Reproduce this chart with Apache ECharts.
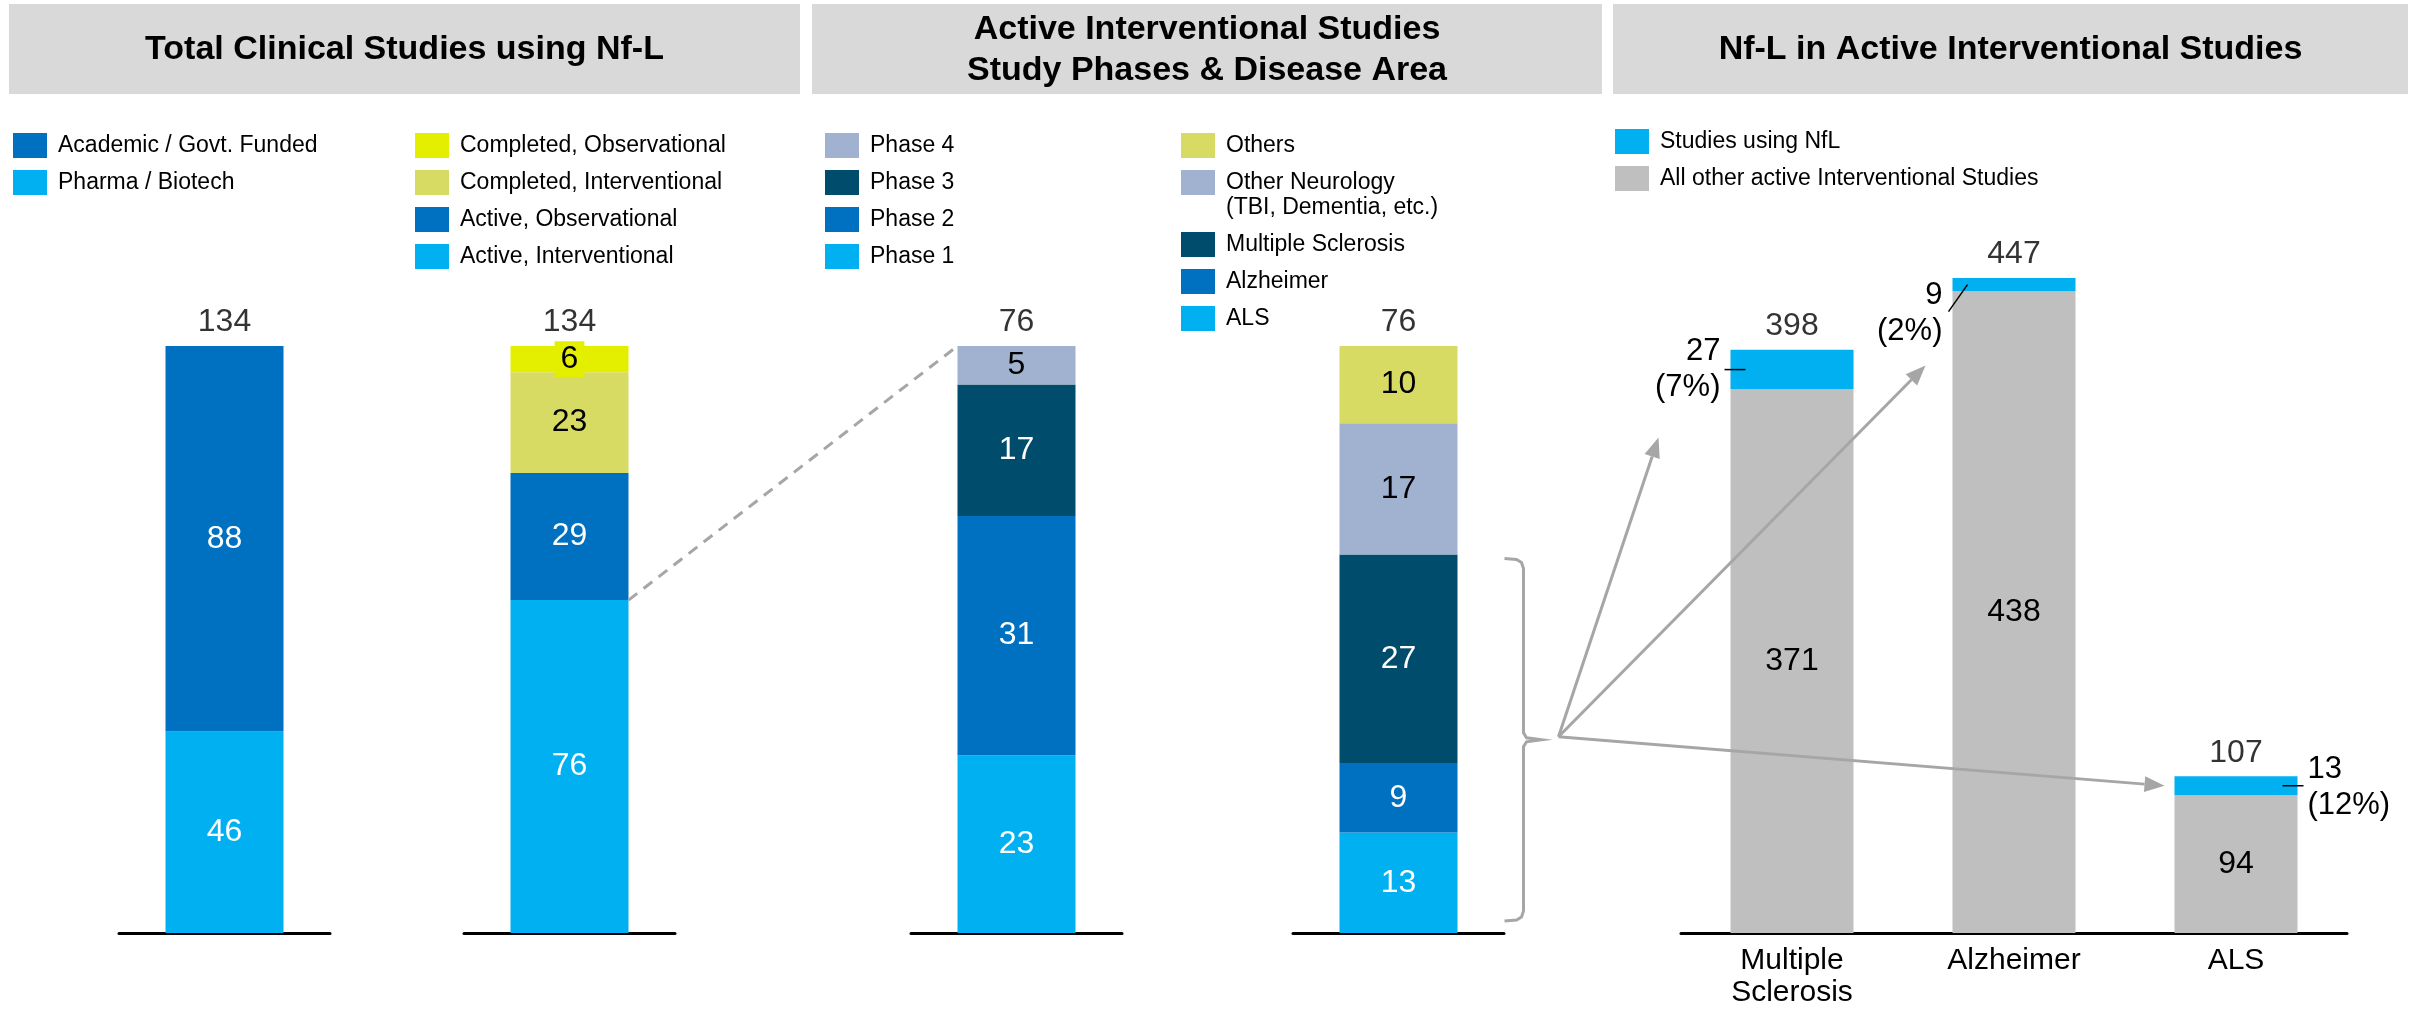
<!DOCTYPE html>
<html lang="en">
<head>
    <meta charset="UTF-8">
    <title>Nf-L Clinical Studies</title>
    <script src="https://cdn.jsdelivr.net/npm/echarts@6/dist/echarts.min.js"></script>
    <style>
        html, body { margin: 0; padding: 0; background: #fff; }
        #main { width: 2417px; height: 1009px; }
    </style>
</head>
<body>
<div id="main"></div>
<script type="text/javascript">
    // data, bottom segment first
    var fundingNames = ['Pharma / Biotech', 'Academic / Govt. Funded'];
    var fundingValues = [46, 88];
    var statusNames = ['Active, Interventional', 'Active, Observational', 'Completed, Interventional', 'Completed, Observational'];
    var statusValues = [76, 29, 23, 6];
    var phaseNames = ['Phase 1', 'Phase 2', 'Phase 3', 'Phase 4'];
    var phaseValues = [23, 31, 17, 5];
    var diseaseNames = ['ALS', 'Alzheimer', 'Multiple Sclerosis', 'Other Neurology', 'Others'];
    var diseaseValues = [13, 9, 27, 17, 10];
    var areaCategories = ['Multiple\nSclerosis', 'Alzheimer', 'ALS'];
    var otherStudies = [371, 438, 94];
    var nflStudies = [27, 9, 13];
    var titles = ['Total Clinical Studies using Nf-L', 'Active Interventional Studies\nStudy Phases & Disease Area', 'Nf-L in Active Interventional Studies'];

    var LIGHT = '#00B0F0', DARK = '#0070C0', NAVY = '#004C6D', LAV = '#A0B2CF',
        OLIVE = '#D8DB63', YELLOW = '#E4EF00', GRAY = '#BFBFBF', LINE = '#A6A6A6';
    var FONT = "'Liberation Sans', Arial, sans-serif";

    function sum(arr) {
        var s = 0;
        for (var i = 0; i < arr.length; i++) s += arr[i];
        return s;
    }

    var stacks = [
        {names: fundingNames, values: fundingValues, colors: [LIGHT, DARK], text: ['#fff', '#fff'], left: 119},
        {names: statusNames, values: statusValues, colors: [LIGHT, DARK, OLIVE, YELLOW], text: ['#fff', '#fff', '#000', '#000'], left: 464},
        {names: phaseNames, values: phaseValues, colors: [LIGHT, DARK, NAVY, LAV], text: ['#fff', '#fff', '#fff', '#000'], left: 911},
        {names: diseaseNames, values: diseaseValues, colors: [LIGHT, DARK, NAVY, LAV, OLIVE], text: ['#fff', '#fff', '#fff', '#000', '#000'], left: 1293}
    ];

    var grids = [], xAxes = [], yAxes = [], series = [];

    function totalLabel(g, points) {
        return {
            type: 'scatter', xAxisIndex: g, yAxisIndex: g, silent: true,
            symbolSize: 1, itemStyle: {color: 'rgba(0,0,0,0)'},
            data: points,
            label: {show: true, position: 'top', distance: 7, color: '#000', fontSize: 32, fontFamily: FONT,
                formatter: function (p) { return p.value[1]; }}
        };
    }

    stacks.forEach(function (st, g) {
        grids.push({left: st.left, top: 346, width: 211, bottom: 76, outerBoundsMode: 'none'});
        xAxes.push({gridIndex: g, type: 'category', data: [''],
            axisLine: {lineStyle: {color: '#000', width: 3}}, axisTick: {show: false}, axisLabel: {show: false}});
        yAxes.push({gridIndex: g, type: 'value', min: 0, max: sum(st.values), show: false});
        st.names.forEach(function (n, i) {
            var lab = {show: true, position: 'inside', color: st.text[i], fontSize: 32, fontFamily: FONT};
            if (st.colors[i] === YELLOW) {
                lab.backgroundColor = YELLOW;
                lab.padding = [2, 6, 2, 6];
            }
            series.push({
                name: n, type: 'bar', stack: 'bar' + g, xAxisIndex: g, yAxisIndex: g,
                barWidth: 118, data: [st.values[i]], itemStyle: {color: st.colors[i]},
                label: lab, emphasis: {disabled: true}
            });
        });
        series.push(totalLabel(g, [[0, sum(st.values)]]));
    });

    // right chart
    var areaTotals = otherStudies.map(function (v, i) { return v + nflStudies[i]; });
    grids.push({left: 1681, top: 278, width: 666, bottom: 76, outerBoundsMode: 'none'});
    xAxes.push({gridIndex: 4, type: 'category', data: areaCategories,
        axisLine: {lineStyle: {color: '#000', width: 3}}, axisTick: {show: false},
        axisLabel: {color: '#000', fontSize: 30, fontFamily: FONT, margin: 12, lineHeight: 32}});
    yAxes.push({gridIndex: 4, type: 'value', min: 0, max: Math.max.apply(null, areaTotals), show: false});
    series.push({
        name: 'All other active Interventional Studies', type: 'bar', stack: 'area', xAxisIndex: 4, yAxisIndex: 4,
        barWidth: 123, data: otherStudies, itemStyle: {color: GRAY}, emphasis: {disabled: true},
        label: {show: true, position: 'inside', color: '#000', fontSize: 32, fontFamily: FONT}
    });
    var nflSide = ['left', 'left', 'right'];
    var nflOffset = [[0, 0], [0, 29], [0, 2]];
    series.push({
        name: 'Studies using NfL', type: 'bar', stack: 'area', xAxisIndex: 4, yAxisIndex: 4,
        barWidth: 123, itemStyle: {color: LIGHT}, emphasis: {disabled: true},
        data: nflStudies.map(function (v, i) {
            return {value: v, label: {position: nflSide[i], offset: nflOffset[i], distance: 10,
                align: nflSide[i] === 'left' ? 'right' : 'left'}};
        }),
        label: {show: true, color: '#000', fontSize: 31, fontFamily: FONT, lineHeight: 36,
            formatter: function (p) {
                return p.value + '\n(' + Math.round(p.value / areaTotals[p.dataIndex] * 100) + '%)';
            }}
    });
    series.push(totalLabel(4, areaTotals.map(function (v, i) { return [i, v]; })));

    var legendBase = {
        orient: 'vertical', icon: 'rect', itemWidth: 34, itemHeight: 25, itemGap: 12,
        selectedMode: false, padding: 0,
        textStyle: {fontSize: 23, color: '#000', fontFamily: FONT, lineHeight: 25, padding: [0, 0, 0, 6]}
    };
    function legend(left, top, names) {
        return echarts.util.merge({left: left, top: top, data: names}, legendBase);
    }

    var myChart = echarts.init(document.getElementById('main'));
    myChart.setOption({
        animation: false,
        backgroundColor: '#fff',
        grid: grids,
        xAxis: xAxes,
        yAxis: yAxes,
        legend: [
            legend(13, 133, fundingNames.slice().reverse()),
            legend(415, 133, statusNames.slice().reverse()),
            legend(825, 133, phaseNames.slice().reverse()),
            legend(1181, 133, ['Others', 'Other Neurology']),
            legend(1181, 232, ['Multiple Sclerosis', 'Alzheimer', 'ALS']),
            legend(1615, 129, ['Studies using NfL', 'All other active Interventional Studies'])
        ],
        series: series
    });

    // annotations, placed from the axes
    function px(g, cat, val) {
        return myChart.convertToPixel({xAxisIndex: g, yAxisIndex: g}, [cat, val]);
    }
    function arrow(x1, y1, x2, y2) {
        var a = Math.atan2(y2 - y1, x2 - x1), len = 20, w = 8;
        var bx = x2 - len * Math.cos(a), by = y2 - len * Math.sin(a);
        return [
            {type: 'line', z: 100, shape: {x1: x1, y1: y1, x2: bx, y2: by}, style: {stroke: LINE, lineWidth: 3}},
            {type: 'polygon', z: 100, shape: {points: [[x2, y2],
                [bx + w * Math.sin(a), by - w * Math.cos(a)], [bx - w * Math.sin(a), by + w * Math.cos(a)]]},
                style: {fill: LINE}}
        ];
    }
    function seg(x1, y1, x2, y2) {
        return {type: 'line', z: 100, shape: {x1: x1, y1: y1, x2: x2, y2: y2}, style: {stroke: '#000', lineWidth: 1.5}};
    }

    var gfx = [];
    var boxes = [[9, 791], [812, 790], [1613, 795]];
    boxes.forEach(function (b, i) {
        gfx.push({type: 'rect', z: 0, shape: {x: b[0], y: 4, width: b[1], height: 90}, style: {fill: '#D9D9D9'}});
        gfx.push({type: 'text', z: 1, x: b[0] + b[1] / 2, y: 50,
            style: {text: titles[i], fill: '#000', fontSize: 34, fontWeight: 'bold', fontFamily: FONT,
                align: 'center', verticalAlign: 'middle', lineHeight: 41}});
    });
    // second line of the "Other Neurology" legend entry
    gfx.push({type: 'text', x: 1226, y: 208,
        style: {text: '(TBI, Dementia, etc.)', fill: '#000', fontSize: 23, fontFamily: FONT, verticalAlign: 'middle'}});

    // dashed link: active interventional -> phase bar
    var half = 59;
    var p1 = px(1, 0, statusValues[0]);
    var p2 = px(2, 0, sum(phaseValues));
    gfx.push({type: 'line', z: 100, shape: {x1: p1[0] + half, y1: p1[1], x2: p2[0] - half, y2: p2[1]},
        style: {stroke: LINE, lineWidth: 3, lineDash: [11, 8]}});

    // bracket over ALS + Alzheimer + MS
    var bTop = px(3, 0, diseaseValues[0] + diseaseValues[1] + diseaseValues[2]);
    var bBot = px(3, 0, 0);
    var y0 = bTop[1] + 4, y1 = bBot[1] - 12, mid = (y0 + y1) / 2;
    var bx0 = bTop[0] + half + 47, bx = bx0 + 19;
    gfx.push({type: 'polyline', z: 100, shape: {points: [
        [bx0, y0], [bx - 7, y0 + 1], [bx - 2, y0 + 4], [bx, y0 + 10],
        [bx, mid - 7], [bx + 3, mid - 2], [bx + 18, mid],
        [bx + 3, mid + 2], [bx, mid + 7],
        [bx, y1 - 10], [bx - 2, y1 - 4], [bx - 7, y1 - 1], [bx0, y1]]},
        style: {stroke: LINE, lineWidth: 3, fill: null}});

    var ox = bx + 35, oy = mid - 3;
    var rHalf = 61.5;
    var ms = px(4, 0, otherStudies[0] + nflStudies[0] / 2);
    var az = px(4, 1, otherStudies[1] + nflStudies[1] / 2);
    var als = px(4, 2, otherStudies[2] + nflStudies[2] / 2);
    gfx = gfx.concat(arrow(ox, oy, ms[0] - rHalf - 72, ms[1] + 68));
    gfx = gfx.concat(arrow(ox, oy, az[0] - rHalf - 27, az[1] + 81));
    gfx = gfx.concat(arrow(ox, oy, als[0] - rHalf - 10, als[1]));
    gfx.push(seg(ms[0] - rHalf - 6, ms[1], ms[0] - rHalf + 15, ms[1]));
    gfx.push(seg(az[0] - rHalf - 4, az[1] + 27, az[0] - rHalf + 15, az[1]));
    gfx.push(seg(als[0] + rHalf - 15, als[1], als[0] + rHalf + 6, als[1]));

    myChart.setOption({graphic: gfx});
</script>
</body>
</html>
